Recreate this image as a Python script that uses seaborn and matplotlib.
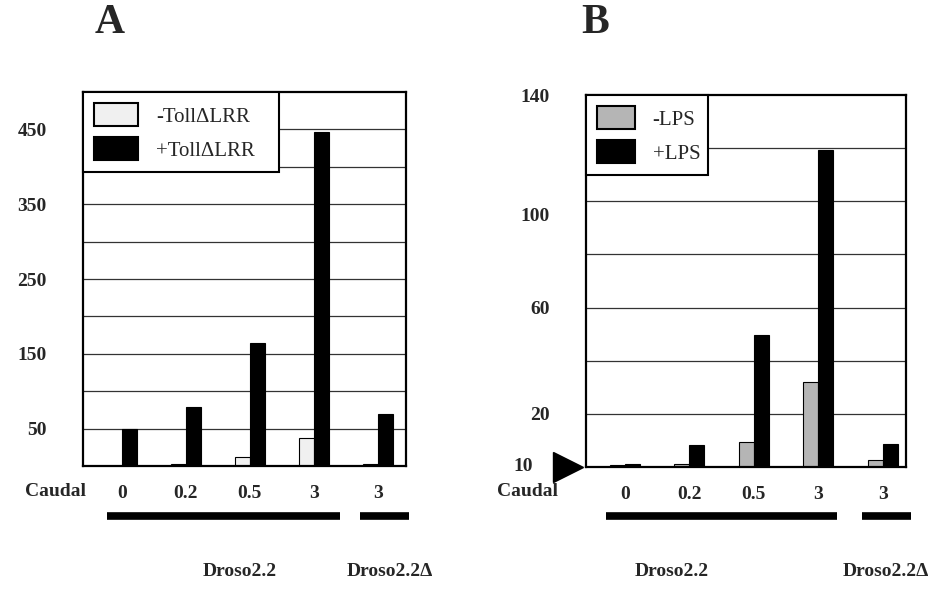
import pandas as pd
import matplotlib
matplotlib.use('Agg')
import matplotlib.pyplot as plt
import matplotlib.transforms as mtransforms
import seaborn as sns

# data
samples = ['Droso2.2 0', 'Droso2.2 0.2', 'Droso2.2 0.5', 'Droso2.2 3', 'Droso2.2d 3']
caudal = ['0', '0.2', '0.5', '3', '3']

toll_minus = [0, 3, 12, 37, 3]
toll_plus = [50, 79, 164, 446, 70]

lps_minus = [0.6, 1.1, 9.3, 32, 2.5]
lps_plus = [1.1, 8.4, 49.8, 119.3, 8.6]

# tick label positions as printed (panel B labels sit a bit off the grid)
a_ticks = [50, 150, 250, 350, 450]
a_labels = ['50', '150', '250', '350', '450']
a_grid = [50, 100, 150, 200, 250, 300, 350, 400, 450]
b_ticks = [1, 20, 60, 95, 140]
b_labels = ['10', '20', '60', '100', '140']
b_grid = [20, 40, 60, 80, 100, 120]

sns.set_style('white')
plt.rcParams['font.family'] = ['Liberation Serif', 'DejaVu Serif']

W, H = 934, 591
fig = plt.figure(figsize=(W / 100, H / 100), dpi=100)


def px(x, y):
    return x / W, 1 - y / H


def make_df(minus, plus, lab_minus, lab_plus):
    df = pd.DataFrame({'sample': samples * 2,
                       'value': minus + plus,
                       'treatment': [lab_minus] * 5 + [lab_plus] * 5})
    return df


def panel(ax, df, colors, xlim, ylim, ticks, labels, grid, leg_w, hlen):
    for g in grid:
        ax.axhline(g, color='#333333', lw=0.9, zorder=0)
    sns.barplot(data=df, x='sample', y='value', hue='treatment', order=samples,
                palette=colors, width=0.47, gap=0, edgecolor='black', linewidth=0.8,
                ax=ax, legend=True)
    ax.set_xlim(*xlim)
    ax.set_ylim(*ylim)
    ax.set_yticks(ticks)
    ax.set_yticklabels(labels, fontsize=14, fontweight='bold')
    ax.set_xticks(range(5))
    ax.set_xticklabels(caudal, fontsize=14, fontweight='bold')
    ax.tick_params(axis='y', length=0, pad=26)
    ax.tick_params(axis='x', length=0, pad=14)
    ax.grid(False)
    ax.set_xlabel('')
    ax.set_ylabel('')
    for s in ax.spines.values():
        s.set_visible(True)
        s.set_color('black')
        s.set_linewidth(1.6)
    leg = ax.legend(loc='upper left', bbox_to_anchor=(0, 0, leg_w, 1), mode='expand',
                    borderaxespad=0, fancybox=False, framealpha=1, edgecolor='black',
                    prop={'family': 'Liberation Serif', 'size': 15},
                    handlelength=hlen, handleheight=1.3, handletextpad=0.85,
                    labelspacing=0.5, borderpad=0.55)
    leg.get_frame().set_linewidth(1.5)
    for h in leg.legend_handles:
        h.set_edgecolor('black')
        h.set_linewidth(1.5)


# panel A
axA = fig.add_axes([83 / W, 1 - 466 / H, 323 / W, 374 / H])
dfA = make_df(toll_minus, toll_plus, '-Toll\u0394LRR', '+Toll\u0394LRR')
panel(axA, dfA, ['#f0f0f0', 'black'], (-0.61, 4.44), (0, 500),
      a_ticks, a_labels, a_grid, 196 / 323, 2.1)

# panel B
axB = fig.add_axes([586 / W, 1 - 467 / H, 320 / W, 372 / H])
dfB = make_df(lps_minus, lps_plus, '-LPS', '+LPS')
panel(axB, dfB, ['#b5b5b5', 'black'], (-0.60, 4.36), (0, 140),
      b_ticks, b_labels, b_grid, 122 / 320, 1.8)

# shift the "10" label left of the arrow head
lab10 = axB.get_yticklabels()[0]
lab10.set_transform(lab10.get_transform() +
                    mtransforms.ScaledTranslation(-0.17, 0, fig.dpi_scale_trans))
axB.plot([-0.055], [0], marker='>', markersize=21, color='black',
         transform=axB.get_yaxis_transform(), clip_on=False)

bold = dict(fontsize=14, fontweight='bold', ha='center', va='center')
fig.text(*px(110, 23), 'A', fontsize=30, fontweight='bold', ha='center', va='center')
fig.text(*px(595, 23), 'B', fontsize=30, fontweight='bold', ha='center', va='center')
fig.text(*px(55, 492), 'Caudal', **bold)
fig.text(*px(527, 492), 'Caudal', **bold)
fig.text(*px(240, 571), 'Droso2.2', **bold)
fig.text(*px(390, 571), 'Droso2.2\u0394', **bold)
fig.text(*px(672, 571), 'Droso2.2', **bold)
fig.text(*px(886, 571), 'Droso2.2\u0394', **bold)

# thick bars under the construct groups
for x0, x1 in [(107, 340), (360, 409), (606, 837), (862, 911)]:
    fig.add_artist(plt.Line2D([x0 / W, x1 / W], [1 - 516 / H] * 2,
                              color='black', lw=5.5, solid_capstyle='butt'))

fig.savefig('out.png', dpi=100)
